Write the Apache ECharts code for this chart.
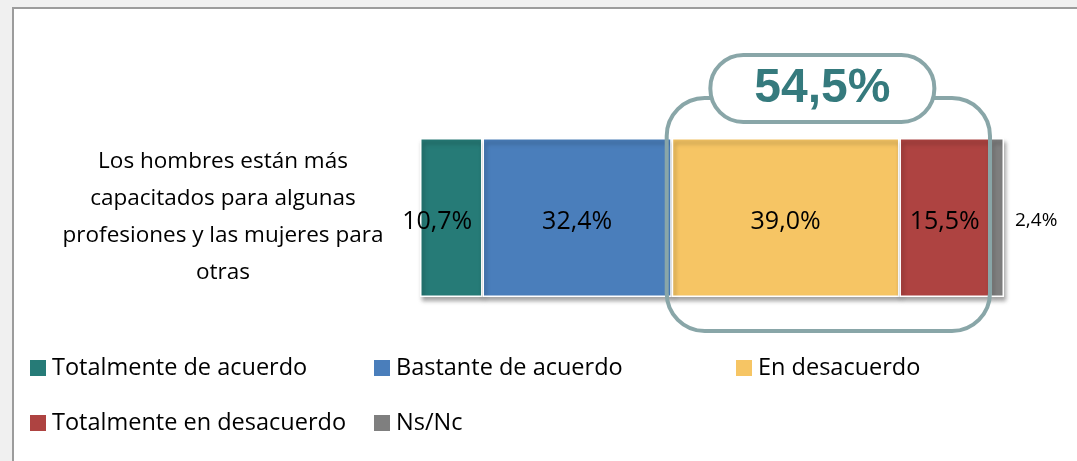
<!DOCTYPE html>
<html><head><meta charset="utf-8">
<script src="https://cdn.jsdelivr.net/npm/echarts@6/dist/echarts.min.js"></script>
<style>html,body{margin:0;padding:0;background:#f0f0f0;}#c{width:1077px;height:461px;}</style>
</head><body><div id="c"></div>
<script>
const categories = ['Los hombres están más\ncapacitados para algunas\nprofesiones y las mujeres para\notras'];
const seriesNames = ['Totalmente de acuerdo','Bastante de acuerdo','En desacuerdo','Totalmente en desacuerdo','Ns/Nc'];
const seriesValues = [[10.7],[32.4],[39.0],[15.5],[2.4]];
const colors = ['#267b77','#4a7ebb','#f6c564','#ae4341','#7f7f7f'];
const highlightLabel = '54,5%';
const highlightSeries = [2,3];

const font = '"Open Sans", Lato, sans-serif';
const chart = echarts.init(document.getElementById('c'));
const fmt = v => v.toFixed(1).replace('.', ',') + '%';

const series = seriesNames.map((n,i)=>({
  name:n, type:'bar', stack:'all', barWidth:'100%',
  data: seriesValues[i].map(v=>({value:v, label: i===0 ? {offset:[-14,4]} : {}})),
  itemStyle:{color:colors[i], borderColor:'#fff', borderWidth:1.5,
    shadowColor:'rgba(0,0,0,0.35)', shadowBlur:4, shadowOffsetX:2, shadowOffsetY:4},
  label: i===4 ? {show:true, position:'right', distance:11, offset:[0,3], fontSize:19, color:'#000', fontFamily:font, formatter:p=>fmt(p.value)}
              : {show:true, position:'inside', offset:[0,4], fontSize:25, color:'#000', fontFamily:font, formatter:p=>fmt(p.value)},
  emphasis:{disabled:true}
}));

const legendPos = [[30,356],[374,356],[736,356],[30,411],[374,411]];
const legends = seriesNames.map((n,i)=>({
  data:[n], left:legendPos[i][0], top:legendPos[i][1], itemWidth:16, itemHeight:16, itemGap:6, padding:0,
  icon:'rect', itemStyle:{borderWidth:0, shadowBlur:0, shadowOffsetX:0, shadowOffsetY:0},
  textStyle:{fontSize:23.5, color:'#000', fontFamily:font, padding:[0,0,0,1]}, selectedMode:false
}));

chart.setOption({
  backgroundColor:'#f0f0f0',
  animation:false,
  grid:{left:420, right:73, top:138, bottom:164, containLabel:false},
  xAxis:{type:'value', min:0, max:100, show:false},
  yAxis:{type:'category', data:categories, axisLine:{show:false}, axisTick:{show:false},
    axisLabel:{margin:197, align:'center', fontSize:22.5, lineHeight:37, color:'#000', fontFamily:font}},
  legend:legends,
  series:series,
  graphic:[{type:'rect', z:-100, silent:true, shape:{x:13,y:8,width:1200,height:600}, style:{fill:'#fff', stroke:'#9c9c9c', lineWidth:2}}]
});

// annotation bracket computed from axis scale
let start = 0; for (let i=0;i<highlightSeries[0];i++) start += seriesValues[i][0];
let end = start; highlightSeries.forEach(i=>end += seriesValues[i][0]);
const x0 = chart.convertToPixel({xAxisIndex:0}, start) - 5;
const x1 = chart.convertToPixel({xAxisIndex:0}, end) + 0;
const barTop = 138, barBot = 461-164;
const bx = {x:x0, y:barTop-40, width:x1-x0, height:(barBot+34)-(barTop-40)};
const pillW = 224, pillH = 67, cx = (x0+x1)/2 - 6;
chart.setOption({graphic:[
  {type:'rect', z:-100, silent:true, shape:{x:13,y:8,width:1200,height:600}, style:{fill:'#fff', stroke:'#9c9c9c', lineWidth:2}},
  {type:'rect', z:100, silent:true, shape:{x:bx.x,y:bx.y,width:bx.width,height:bx.height,r:38}, style:{fill:'none', stroke:'#89a6a8', lineWidth:4}},
  {type:'rect', z:101, silent:true, shape:{x:cx-pillW/2,y:55,width:pillW,height:pillH,r:33}, style:{fill:'#fff', stroke:'#89a6a8', lineWidth:4}},
  {type:'text', z:102, silent:true, x:cx, y:89, style:{text:highlightLabel, fill:'#357a7d', font:'bold 48px "Liberation Sans", Arial, sans-serif', align:'center', verticalAlign:'middle'}}
]});
</script></body></html>
